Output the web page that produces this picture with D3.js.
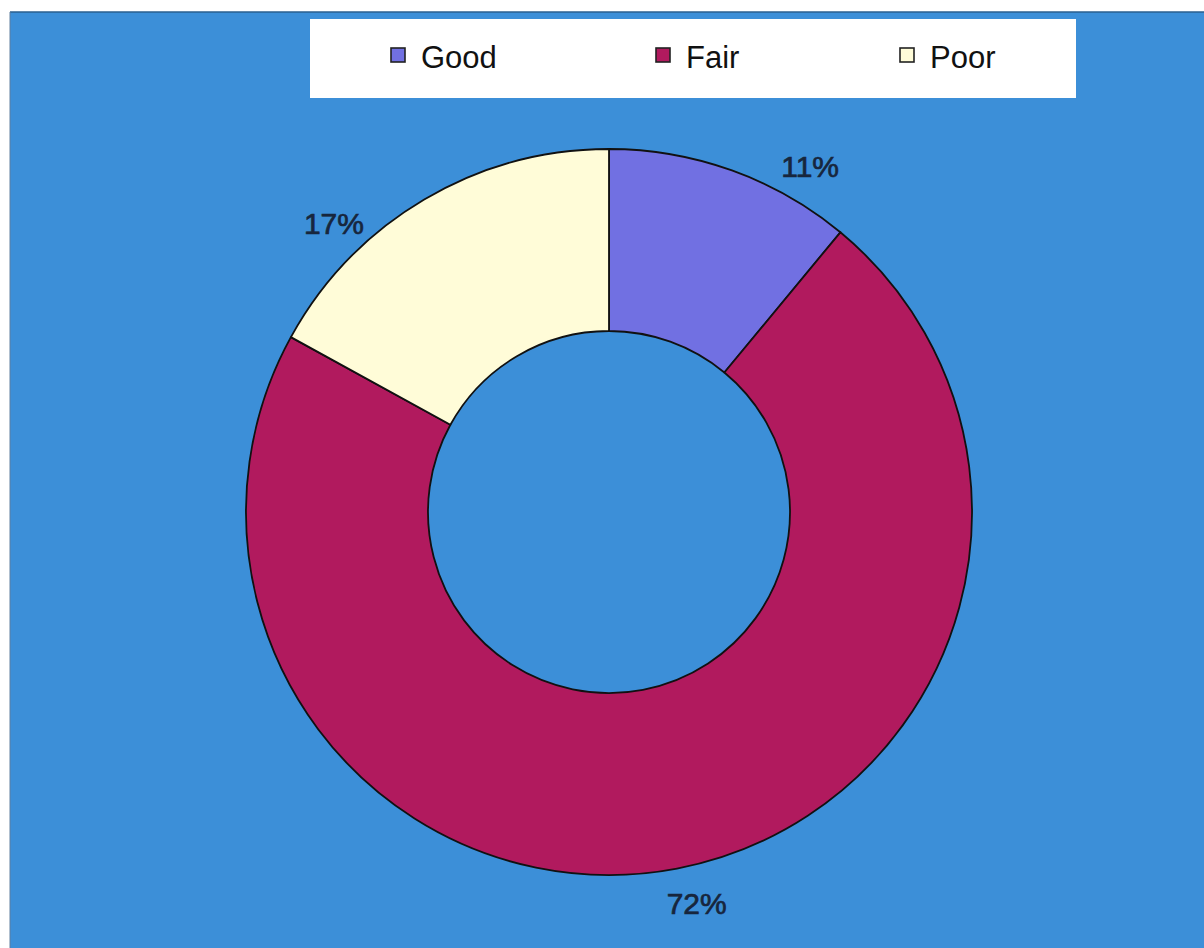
<!DOCTYPE html>
<html>
<head>
<meta charset="utf-8">
<script src="https://cdn.jsdelivr.net/npm/d3@7"></script>
<style>
  html, body { margin: 0; padding: 0; background: #ffffff; }
  svg { display: block; }
</style>
</head>
<body>
<svg id="chart" width="1204" height="948"></svg>
<script>
// Condition ratings, share of total (%)
const categories = ["Good", "Fair", "Poor"];
const shares = [11, 72, 17];
const colors = ["#7170e2", "#b11a5e", "#fffcd8"];

const svg = d3.select("#chart");
const W = 1204, H = 948;

// Chart area background
svg.append("rect")
  .attr("x", 10).attr("y", 12)
  .attr("width", W - 10).attr("height", H - 12)
  .attr("fill", "#3c8fd8");
svg.append("line")
  .attr("x1", 10).attr("y1", 12).attr("x2", W).attr("y2", 12)
  .attr("stroke", "#2a5f8f").attr("stroke-width", 1.5);
svg.append("line")
  .attr("x1", 10).attr("y1", 12).attr("x2", 10).attr("y2", H)
  .attr("stroke", "#5f7f9f").attr("stroke-width", 1);

// Legend box
const legend = svg.append("g");
legend.append("rect")
  .attr("x", 310).attr("y", 19)
  .attr("width", 766).attr("height", 79)
  .attr("fill", "#ffffff");

const legendX = d3.scaleOrdinal().domain(categories).range([391, 656, 900]);
const items = legend.selectAll("g.item")
  .data(categories)
  .join("g")
  .attr("class", "item")
  .attr("transform", d => `translate(${legendX(d)},48)`);
items.append("rect")
  .attr("width", 14).attr("height", 14)
  .attr("fill", (d, i) => colors[i])
  .attr("stroke", "#222").attr("stroke-width", 1.6);
items.append("text")
  .attr("x", 30).attr("y", 20)
  .attr("font-family", "Liberation Sans, Arial, sans-serif")
  .attr("font-size", 31)
  .attr("fill", "#111")
  .text(d => d);

// Donut
const cx = 609, cy = 512;
const outerR = 363, innerR = 181;
const pie = d3.pie().sort(null).value(d => d)(shares);
const arc = d3.arc().innerRadius(innerR).outerRadius(outerR);

const g = svg.append("g").attr("transform", `translate(${cx},${cy})`);
g.selectAll("path")
  .data(pie)
  .join("path")
  .attr("d", arc)
  .attr("fill", (d, i) => colors[i])
  .attr("stroke", "#111")
  .attr("stroke-width", 1.8)
  .attr("stroke-linejoin", "round");

// Percentage labels just outside each segment, nudged clear of the ring
const labelArc = d3.arc().innerRadius(outerR + 30).outerRadius(outerR + 30);
const labelOffsets = [[68, 24], [14, 5], [-75, 50]];
g.selectAll("text.pct")
  .data(pie)
  .join("text")
  .attr("class", "pct")
  .attr("transform", (d, i) => {
    const [x, y] = labelArc.centroid(d);
    return `translate(${x + labelOffsets[i][0]},${y + labelOffsets[i][1]})`;
  })
  .attr("text-anchor", "middle")
  .attr("dominant-baseline", "central")
  .attr("font-family", "Liberation Sans, Arial, sans-serif")
  .attr("font-size", 30)
  .attr("fill", "#17263d")
  .attr("stroke", "#17263d")
  .attr("stroke-width", 0.7)
  .text(d => d.data + "%");
</script>
</body>
</html>
